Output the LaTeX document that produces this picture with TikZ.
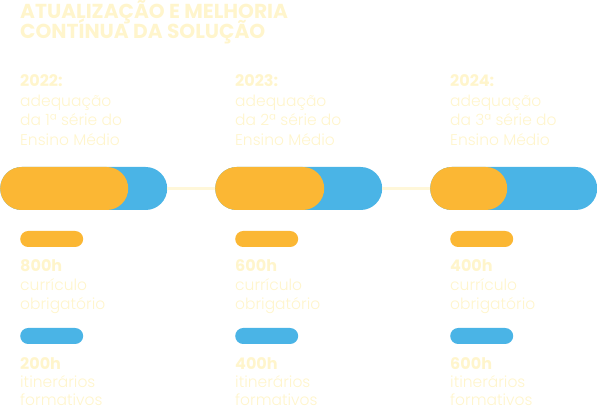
\documentclass[tikz,border=0pt]{standalone}
\usepackage{fontspec}
\setmainfont{Poppins}
\newfontfamily\lightf{Poppins Light}
\definecolor{pale}{HTML}{FFF5CC}
\definecolor{paleline}{HTML}{FFF7D9}
\definecolor{orangeC}{HTML}{FBB734}
\definecolor{blueC}{HTML}{4AB4E6}
\tikzset{
  titlet/.style={anchor=base west, inner sep=0pt, text=pale, font=\bfseries\fontsize{20.2}{22}\selectfont},
  boldt/.style={anchor=base west, inner sep=0pt, text=pale, font=\bfseries\fontsize{16}{19}\selectfont},
  bodyt/.style={anchor=base west, inner sep=0pt, text=pale, font=\lightf\fontsize{15.5}{19}\selectfont},
  bigpill/.style={anchor=west, inner sep=0pt, minimum height=43pt, rounded corners=21.5pt},
  smallpill/.style={anchor=west, inner sep=0pt, minimum height=16pt, minimum width=63pt, rounded corners=8pt},
  link/.style={draw=paleline, line width=3pt}
}
\begin{document}
\begin{tikzpicture}[x=1pt,y=-1pt]
\useasboundingbox (0,0) rectangle (597,411);
\node[titlet] (t1) at (20,18.5) {ATUALIZAÇÃO E MELHORIA};
\node[titlet] (t2) at (20,38.5) {CONTÍNUA DA SOLUÇÃO};
\foreach \i/\x/\yr/\ord/\ow/\ha/\hb in {1/0/2022/1/128/800/200, 2/215/2023/2/109/600/400, 3/430/2024/3/77/400/600}{
  \node[bigpill, fill=blueC, minimum width=167pt] (b\i) at (\x,188.5) {};
  \node[bigpill, fill=orangeC, minimum width=\ow pt] (o\i) at (\x,188.5) {};
  \node[boldt] (yr\i) at (\x+20,86.7) {\yr:};
  \node[bodyt] (la\i) at (\x+20,106.5) {adequação};
  \node[bodyt] (lb\i) at (\x+20,126) {da \ord ª série do};
  \node[bodyt] (lc\i) at (\x+20,145.5) {Ensino Médio};
  \node[smallpill, fill=orangeC] (so\i) at (\x+20,239) {};
  \node[boldt] (ha\i) at (\x+20,271.7) {\ha h};
  \node[bodyt] (hal\i) at (\x+20,290.7) {currículo};
  \node[bodyt] (hbl\i) at (\x+20,310) {obrigatório};
  \node[smallpill, fill=blueC] (sb\i) at (\x+20,336) {};
  \node[boldt] (hb\i) at (\x+20,369.5) {\hb h};
  \node[bodyt] (hcl\i) at (\x+20,388) {itinerários};
  \node[bodyt] (hdl\i) at (\x+20,405.5) {formativos};
}
\draw[link] (b1.east) -- (o2.west);
\draw[link] (b2.east) -- (o3.west);
\end{tikzpicture}
\end{document}
